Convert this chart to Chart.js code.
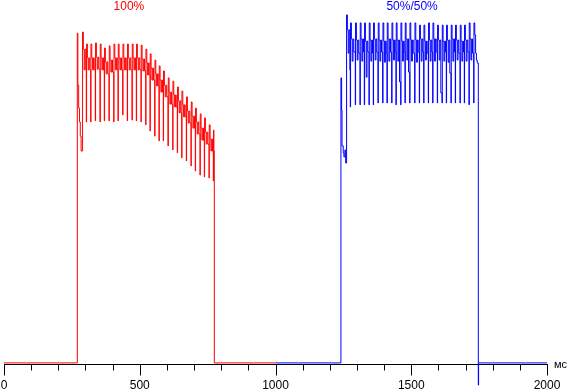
<!DOCTYPE html>
<html>
<head>
<meta charset="utf-8">
<script src="https://cdn.jsdelivr.net/npm/chart.js@4/dist/chart.umd.min.js"></script>
<style>
  html, body { margin: 0; padding: 0; background: #fff; }
  canvas { display: block; }
</style>
</head>
<body>
<canvas id="flicker" width="569" height="390"></canvas>
<script>
// ====== DATA (time in ms, brightness in % of scale)
const xTicks = [0, 500, 1000, 1500, 2000];
const xUnit = 'мс';
const burstNames = ['100%', '50%/50%'];

// red burst: lead-in, then one entry per flicker period, then the fall
const redHeadT = [0, 270, 272, 275, 278, 281, 284];
const redHeadV = [0.3, 90.9, 76.6, 70.3, 66.5, 62.6, 58.5];
const redT = [288.4, 303.1, 319.3, 336.3, 353.6, 369.4, 386.7, 404.1, 419.9, 437.2, 454.1, 471.5, 487.3, 504.6,
  521.9, 537.8, 555.1, 570.9, 586.7, 604.1, 621.4, 638.3, 654.5, 671.5, 688.8, 704.6, 721.9, 737.8, 755.1];
const redTrough = [58.5, 66.5, 66.5, 66.8, 66.5, 66.8, 66.8, 66.5, 66.8, 68.4, 66.8, 67.0, 66.8, 66.5,
  65.7, 64.0, 62.6, 61.3, 61.3, 59.9, 58.8, 58.0, 56.6, 55.8, 54.4, 53.0, 51.9, 51.4, 51.1];
const redPeak = [91.2, 87.9, 87.9, 88.2, 87.9, 86.8, 87.4, 87.9, 87.9, 87.9, 87.9, 87.9, 87.9, 87.6,
  86.5, 85.2, 83.5, 81.9, 80.5, 78.6, 77.7, 76.1, 75.0, 73.4, 72.0, 70.3, 68.7, 67.6, 65.7];
const redMid = [86.5, 84.1, 84.1, 84.3, 84.1, 83.0, 83.5, 84.1, 84.1, 84.1, 84.1, 84.1, 84.1, 83.8,
  82.7, 81.3, 79.7, 78.0, 76.6, 74.7, 73.9, 72.3, 71.2, 69.5, 68.1, 66.5, 64.8, 63.7, 61.8];
const redDip = [80.8, 80.8, 80.8, 81.0, 80.8, 79.7, 80.2, 80.8, 80.8, 80.8, 80.8, 80.8, 80.8, 80.5,
  79.4, 78.0, 76.4, 74.7, 73.4, 71.4, 70.6, 69.0, 67.9, 66.2, 64.8, 63.2, 61.5, 60.4, 58.5];
const redTailT = [770.9, 771.9, 773.0, 774.6, 1000];
const redTailV = [50.3, 64.3, 58.5, 0.3, 0.3];

// blue burst
const blueHeadT = [1000, 1241, 1243.5, 1245, 1249.5, 1252, 1255.5, 1258.5];
const blueHeadV = [0.3, 78.6, 69.8, 59.9, 58.0, 56.9, 58.8, 55.2];
const blueT = [1260.8, 1275.5, 1293.9, 1311.2, 1327.1, 1344.4, 1360.2, 1377.5, 1394.8, 1410.7, 1428.0, 1443.8, 1461.1, 1477.0,
  1494.3, 1512.7, 1529.7, 1545.9, 1562.8, 1579.0, 1596.0, 1613.3, 1629.1, 1646.4, 1662.2, 1679.6, 1695.4, 1712.7];
const blueTrough = [55.2, 70.6, 71.2, 71.2, 71.2, 71.2, 71.2, 71.7, 71.7, 71.7, 71.7, 71.2, 71.2, 71.7,
  71.7, 71.7, 71.7, 71.7, 71.7, 71.7, 71.7, 71.7, 71.7, 71.7, 71.7, 71.7, 71.7, 71.2];
const bluePeak = [95.9, 93.7, 93.7, 93.7, 93.7, 93.7, 93.7, 93.7, 93.7, 93.7, 93.7, 93.7, 93.7, 93.7,
  93.7, 93.7, 93.1, 93.1, 93.7, 93.7, 93.1, 93.1, 93.1, 93.1, 93.1, 93.1, 93.1, 93.7];
const blueMid = [91.8, 89.3, 89.0, 89.3, 88.7, 89.0, 89.3, 89.0, 88.7, 89.3, 89.0, 89.0, 88.7, 89.3,
  89.0, 89.0, 89.3, 88.7, 89.0, 89.3, 89.0, 88.7, 89.0, 89.3, 89.0, 88.7, 89.0, 89.3];
const blueDip = [85.4, 83.2, 83.5, 83.2, 78.8, 83.2, 83.5, 83.2, 82.9, 83.2, 83.5, 83.2, 83.2, 83.5,
  83.2, 82.9, 83.2, 83.5, 83.2, 83.2, 83.5, 83.2, 82.9, 83.2, 83.5, 83.2, 83.2, 83.5];
const blueLate = [80.8, 85.7, 85.4, 85.7, 85.7, 85.4, 85.7, 85.7, 85.4, 85.7, 85.7, 77.5, 85.7, 80.2,
  85.4, 85.7, 85.7, 85.4, 85.7, 85.7, 74.5, 85.7, 79.9, 85.7, 85.4, 85.7, 85.7, 85.4];
const blueTailT = [1730.0, 1731, 1734, 1737, 1740, 1743, 1747, 1748, 2000];
const blueTailV = [71.7, 93.7, 90.4, 85.4, 83.5, 82.7, -5.8, 0.3, 0.3];

// ====== HELPERS
const zip = (ts, vs) => ts.map((t, i) => ({ x: t, y: vs[i] }));

// sample spots inside one flicker period (ms after the trough)
const OFFS = [0, 1, 4, 7, 10, 13];
function pulses(T, trough, peak, mid, dip, late) {
  const pts = [];
  T.forEach((t, i) => {
    const vals = [trough[i], peak[i], mid[i], dip[i], mid[i], late[i]];
    vals.forEach((v, k) => pts.push({ x: t + OFFS[k], y: v }));
  });
  return pts;
}

const redPts = [...zip(redHeadT, redHeadV), ...pulses(redT, redTrough, redPeak, redMid, redDip, redDip), ...zip(redTailT, redTailV)];
const bluePts = [...zip(blueHeadT, blueHeadV), ...pulses(blueT, blueTrough, bluePeak, blueMid, blueDip, blueLate), ...zip(blueTailT, blueTailV)];

// ====== AXIS + TEXT plugin
const axisPlugin = {
  id: 'oscAxis',
  beforeDatasetsDraw(chart) {
    const { ctx, chartArea } = chart;
    const sx = chart.scales.x;
    const y0 = Math.round(chartArea.bottom) + 0.5;
    ctx.save();
    ctx.strokeStyle = '#000';
    ctx.lineWidth = 1;
    ctx.beginPath();
    ctx.moveTo(Math.round(sx.getPixelForValue(0)), y0);
    ctx.lineTo(Math.round(sx.getPixelForValue(2000)) + 1, y0);
    for (let v = 0; v <= 2000; v += 100) {
      const px = Math.round(sx.getPixelForValue(v)) + 0.5;
      const len = v % 500 === 0 ? 11 : 6;
      ctx.moveTo(px, y0);
      ctx.lineTo(px, y0 + len);
    }
    ctx.stroke();
    ctx.restore();
  },
  afterDatasetsDraw(chart) {
    const { ctx, chartArea } = chart;
    const sx = chart.scales.x;
    ctx.save();
    ctx.font = '12px "Liberation Sans", Arial, sans-serif';
    ctx.fillStyle = '#000';
    ctx.textAlign = 'center';
    ctx.textBaseline = 'alphabetic';
    xTicks.forEach(v => ctx.fillText(String(v), sx.getPixelForValue(v), chartArea.bottom + 25));
    ctx.textAlign = 'left';
    ctx.font = '11px "Liberation Sans", Arial, sans-serif';
    ctx.fillText(xUnit, sx.getPixelForValue(2000) + 7, chartArea.bottom + 4);
    // burst captions
    ctx.font = '12px "Liberation Sans", Arial, sans-serif';
    ctx.textAlign = 'center';
    ctx.fillStyle = '#ff0000';
    ctx.fillText(burstNames[0], sx.getPixelForValue(460), 10);
    ctx.fillStyle = '#0000ff';
    ctx.fillText(burstNames[1], sx.getPixelForValue(1503), 10);
    ctx.restore();
  }
};

// ====== CHART
function createChart() {
  const ctx = document.getElementById('flicker').getContext('2d');
  const line = (pts, color) => ({
    data: pts,
    borderColor: color,
    borderWidth: 1,
    pointRadius: 0,
    stepped: true,
    fill: false,
    clip: false
  });
  new Chart(ctx, {
    type: 'line',
    data: { datasets: [line(redPts, '#ff0000'), line(bluePts, '#0000ff')] },
    options: {
      responsive: false,
      animation: false,
      layout: { padding: { left: 4, right: 22, top: 0, bottom: 26 } },
      scales: {
        x: { type: 'linear', min: 0, max: 2000, display: false },
        y: { type: 'linear', min: 0, max: 100, display: false }
      },
      plugins: { legend: { display: false }, tooltip: { enabled: false } }
    },
    plugins: [axisPlugin]
  });
}

createChart();
</script>
</body>
</html>
